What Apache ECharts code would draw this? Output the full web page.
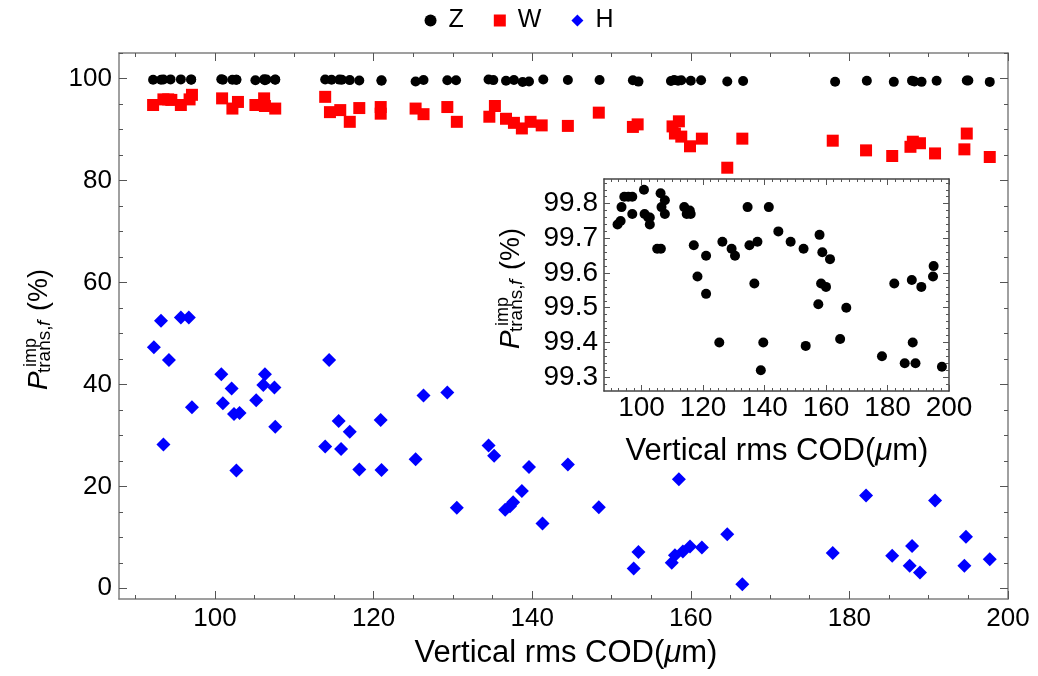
<!DOCTYPE html>
<html>
<head>
<meta charset="utf-8">
<title>P imp trans,f vs vertical rms COD</title>
<script src="https://cdn.jsdelivr.net/npm/echarts/dist/echarts.min.js"></script>
<style>
  html, body { margin: 0; padding: 0; background: #fff; }
  #chart { width: 1038px; height: 676px; }
</style>
</head>
<body>
<div id="chart"></div>
<script>
// Z points (also drawn in the inset)
var zX = [92.2, 93.2, 93.5, 94.4, 95.7, 97.0, 97.0, 100.8, 101.0, 102.2, 102.7, 102.7, 105.1, 106.3, 106.2, 106.5, 107.6, 107.6,
  113.9, 114.7, 115.7, 116.0, 117.0, 118.2, 121.0, 121.0, 125.3, 126.3, 129.3, 130.4, 134.5, 135.1, 136.7, 137.7, 138.8, 139.6,
  141.4, 144.5, 148.5, 152.7, 153.4, 157.5, 157.9, 158.4, 158.8, 160.0, 161.3, 164.6, 166.6, 178.2, 182.2, 185.6, 187.9, 188.2,
  189.1, 191.0, 194.8, 195.0, 197.7];
var zY = [99.74, 99.75, 99.79, 99.82, 99.82, 99.82, 99.77, 99.84, 99.77, 99.76, 99.76, 99.74, 99.67, 99.67, 99.83, 99.79, 99.81, 99.77,
  99.79, 99.77, 99.78, 99.77, 99.68, 99.59, 99.65, 99.54, 99.40, 99.69, 99.67, 99.65, 99.79, 99.68, 99.57, 99.69, 99.32, 99.40,
  99.79, 99.72, 99.69, 99.67, 99.39, 99.51, 99.71, 99.57, 99.66, 99.56, 99.64, 99.41, 99.50, 99.36, 99.57, 99.34, 99.58, 99.40,
  99.34, 99.56, 99.59, 99.62, 99.33];

// W points
var wX = [92.2, 93.5, 94.1, 94.5, 95.7, 96.8, 97.1, 100.9, 102.2, 102.9, 105.1, 106.2, 106.3, 107.6, 113.9, 114.5, 115.8, 117.0,
  118.2, 120.9, 120.9, 125.3, 126.3, 129.3, 130.5, 134.6, 135.3, 136.7, 137.7, 138.7, 139.8, 141.2, 144.5, 148.4, 152.7, 153.3,
  157.7, 158.5, 158.0, 158.8, 159.9, 161.4, 164.6, 166.5, 177.9, 182.1, 185.4, 187.7, 188.0, 188.9, 190.8, 194.5, 194.8, 197.7];
var wY = [94.8, 95.9, 95.9, 95.8, 94.8, 95.9, 96.8, 96.1, 94.1, 95.4, 94.8, 96.1, 94.6, 94.1, 96.4, 93.4, 93.8, 91.5,
  94.2, 94.4, 93.1, 94.1, 93.0, 94.4, 91.5, 92.5, 94.6, 92.1, 91.3, 90.2, 91.5, 90.8, 90.7, 93.3, 90.5, 91.0,
  90.6, 91.6, 89.2, 88.6, 86.7, 88.2, 82.5, 88.2, 87.8, 85.9, 84.8, 86.6, 87.6, 87.3, 85.3, 86.1, 89.2, 84.6];

// H points
var hX = [92.3, 93.2, 93.5, 94.2, 95.7, 96.7, 97.1, 100.8, 101.0, 102.1, 102.4, 103.1, 102.7, 105.2, 106.3, 106.1, 107.5, 107.6,
  113.9, 114.4, 115.6, 115.9, 117.0, 118.2, 120.9, 121.0, 125.3, 126.3, 129.3, 130.5, 134.5, 135.2, 136.6, 137.2, 137.6, 138.7,
  139.6, 141.3, 144.5, 148.4, 152.8, 153.4, 157.6, 158.0, 158.5, 159.0, 159.9, 161.4, 164.6, 166.5, 177.9, 182.1, 185.4, 187.6,
  187.9, 188.9, 190.8, 194.5, 194.7, 197.7];
var hY = [47.3, 52.5, 28.2, 44.8, 53.1, 53.1, 35.5, 42.0, 36.3, 39.2, 34.2, 34.4, 23.1, 36.9, 42.0, 39.9, 39.4, 31.7,
  27.8, 44.8, 32.8, 27.3, 30.7, 23.3, 33.0, 23.2, 25.3, 37.8, 38.4, 15.8, 28.0, 26.0, 15.4, 16.1, 16.9, 19.1,
  23.8, 12.7, 24.3, 15.9, 3.9, 7.1, 5.0, 6.5, 21.4, 7.2, 8.2, 8.0, 10.6, 0.8, 6.9, 18.2, 6.4, 4.4,
  8.3, 3.1, 17.2, 4.4, 10.1, 5.7];

// tick labels
var mainXTicks = [100, 120, 140, 160, 180, 200];
var mainYTicks = [0, 20, 40, 60, 80, 100];
var insetXTicks = [100, 120, 140, 160, 180, 200];
var insetYTicks = [99.3, 99.4, 99.5, 99.6, 99.7, 99.8];

var FONT = '"Liberation Sans", Arial, Helvetica, sans-serif';

function zip(xs, ys) {
  return xs.map(function (x, i) { return [x, ys[i]]; });
}
// minor tick positions
function steps(a, b, s) {
  var out = [];
  for (var v = a; v <= b + 1e-9; v += s) out.push(+v.toFixed(3));
  return out;
}

function mkAxis(grid, pos, min, max, ticks, len, extra) {
  var ax = {
    type: 'value', gridIndex: grid, position: pos, min: min, max: max,
    splitLine: { show: false },
    axisLine: { show: false, onZero: false },
    axisTick: { show: true, inside: true, length: len, customValues: ticks, lineStyle: { color: '#555', width: 1 } },
    axisLabel: { show: false }
  };
  if (extra) {
    if (extra.line) ax.axisLine = { show: true, onZero: false, lineStyle: { color: extra.line, width: 1.5 } };
    if (extra.label) ax.axisLabel = extra.label;
  }
  return ax;
}

function tickLabel(values, size, margin) {
  return { show: true, customValues: values, fontSize: size, margin: margin, color: '#000', fontFamily: FONT };
}

// rotated y title: P^imp_{trans,f}(%)
function yTitle(x, y) {
  return {
    type: 'group', x: x, y: y, rotation: Math.PI / 2,
    children: [
      { type: 'text', x: 0, y: -9, style: { text: 'P', font: 'italic 28px ' + FONT, fill: '#000', verticalAlign: 'middle' } },
      { type: 'text', x: 23, y: -17, style: { text: 'imp', font: '18px ' + FONT, fill: '#000', verticalAlign: 'middle' } },
      { type: 'text', x: 17, y: -3.5, style: { text: 'trans,', font: '19px ' + FONT, fill: '#000', verticalAlign: 'middle' } },
      { type: 'text', x: 64, y: -3.5, style: { text: 'f', font: 'italic 19px ' + FONT, fill: '#000', verticalAlign: 'middle' } },
      { type: 'text', x: 79, y: -8, style: { text: '(%)', font: '27px ' + FONT, fill: '#000', verticalAlign: 'middle' } }
    ]
  };
}

function xTitle(cx, cy) {
  return {
    type: 'text', x: cx, y: cy,
    style: {
      text: '{n|Vertical rms COD(}{i|μ}{n|m)}',
      align: 'center', verticalAlign: 'middle',
      rich: {
        n: { fontSize: 31, fontFamily: FONT, fill: '#000' },
        i: { fontSize: 31, fontFamily: FONT, fontStyle: 'italic', fill: '#000' }
      }
    }
  };
}

var chart = echarts.init(document.getElementById('chart'));

var mainXMin = 87.9, mainXMax = 200, mainYMin = -2.1, mainYMax = 105;
var inXMin = 87.8, inXMax = 200, inYMin = 99.26, inYMax = 99.871;

var option = {
  backgroundColor: '#fff',
  animation: false,
  legend: {
    top: 3, left: 'center',
    itemWidth: 12, itemHeight: 12, itemGap: 30,
    textStyle: { fontSize: 25, fontFamily: FONT, color: '#000', padding: [0, 0, 0, 7] },
    data: [
      { name: 'Z', icon: 'circle' },
      { name: 'W', icon: 'rect' },
      { name: 'H', icon: 'diamond' }
    ]
  },
  grid: [
    { left: 119, right: 30, top: 53, bottom: 77 },
    { left: 604, top: 179, width: 345, height: 212, show: true, backgroundColor: '#fff', borderWidth: 0 }
  ],
  xAxis: [
    mkAxis(0, 'bottom', mainXMin, mainXMax, mainXTicks, 8, { line: '#808080', label: tickLabel(mainXTicks, 26, 7) }),
    mkAxis(0, 'bottom', mainXMin, mainXMax, steps(90, 200, 5), 4),
    mkAxis(0, 'top', mainXMin, mainXMax, mainXTicks, 8, { line: '#808080' }),
    mkAxis(0, 'top', mainXMin, mainXMax, steps(90, 200, 5), 4),
    mkAxis(1, 'bottom', inXMin, inXMax, insetXTicks, 6, { line: '#444', label: tickLabel(insetXTicks, 28, 3) }),
    mkAxis(1, 'bottom', inXMin, inXMax, steps(90, 200, 2.5), 3),
    mkAxis(1, 'top', inXMin, inXMax, insetXTicks, 6, { line: '#444' }),
    mkAxis(1, 'top', inXMin, inXMax, steps(90, 200, 2.5), 3)
  ],
  yAxis: [
    mkAxis(0, 'left', mainYMin, mainYMax, mainYTicks, 8, { line: '#808080', label: tickLabel(mainYTicks, 26, 7) }),
    mkAxis(0, 'left', mainYMin, mainYMax, steps(0, 105, 5), 4),
    mkAxis(0, 'right', mainYMin, mainYMax, mainYTicks, 8, { line: '#808080' }),
    mkAxis(0, 'right', mainYMin, mainYMax, steps(0, 105, 5), 4),
    mkAxis(1, 'left', inYMin, inYMax, insetYTicks, 6, { line: '#444', label: tickLabel(insetYTicks, 28, 6) }),
    mkAxis(1, 'left', inYMin, inYMax, steps(99.28, 99.86, 0.02), 3),
    mkAxis(1, 'right', inYMin, inYMax, insetYTicks, 6, { line: '#444' }),
    mkAxis(1, 'right', inYMin, inYMax, steps(99.28, 99.86, 0.02), 3)
  ],
  series: [
    { name: 'Z', type: 'scatter', xAxisIndex: 0, yAxisIndex: 0, symbol: 'circle', symbolSize: 10,
      itemStyle: { color: '#000', opacity: 1 }, data: zip(zX, zY) },
    { name: 'W', type: 'scatter', xAxisIndex: 0, yAxisIndex: 0, symbol: 'rect', symbolSize: 12,
      itemStyle: { color: '#ff0000', opacity: 1 }, data: zip(wX, wY) },
    { name: 'H', type: 'scatter', xAxisIndex: 0, yAxisIndex: 0, symbol: 'diamond', symbolSize: 14,
      itemStyle: { color: '#0000ff', opacity: 1 }, data: zip(hX, hY) },
    // inset: zoom on Z
    { name: 'Z', type: 'scatter', xAxisIndex: 4, yAxisIndex: 4, symbol: 'circle', symbolSize: 10,
      itemStyle: { color: '#000', opacity: 1 }, data: zip(zX, zY) }
  ],
  graphic: [
    yTitle(48, 390),
    yTitle(520, 349),
    xTitle(566, 653),
    xTitle(777, 451)
  ]
};

chart.setOption(option);
</script>
</body>
</html>
